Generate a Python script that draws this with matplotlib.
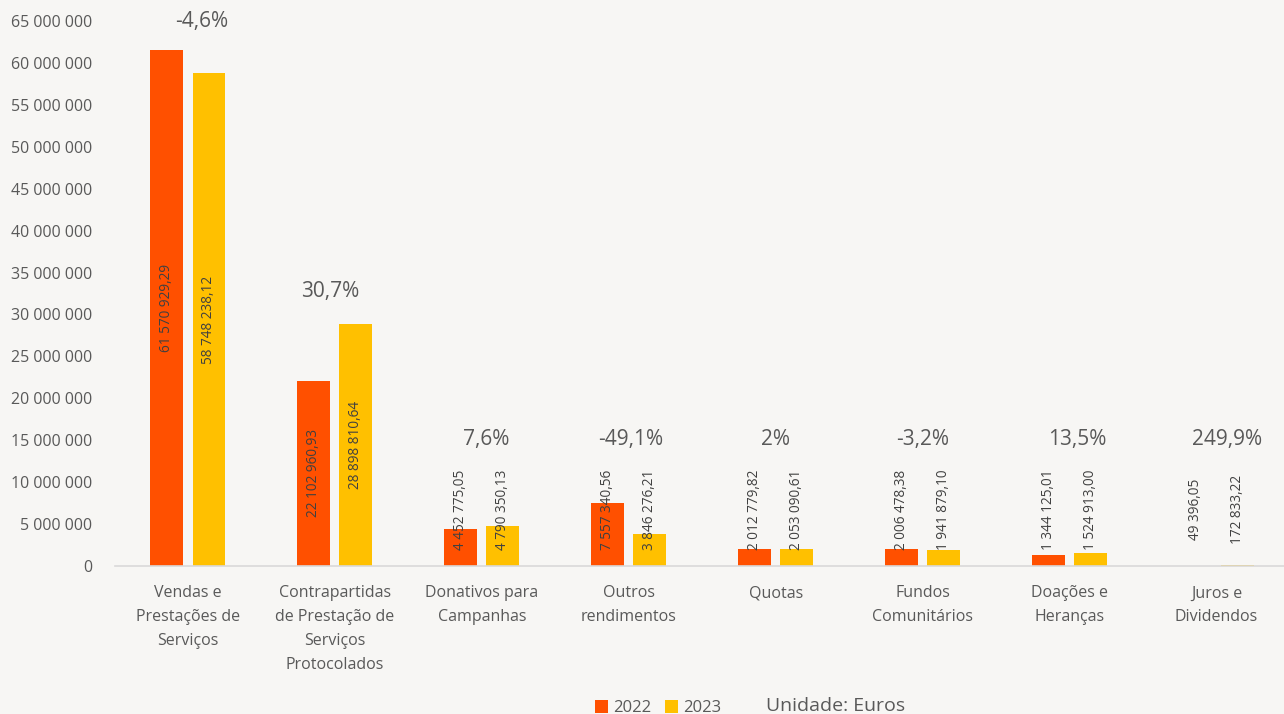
import numpy as np
import matplotlib.pyplot as plt

categories = [
    "Vendas e\nPrestações de\nServiços",
    "Contrapartidas\nde Prestação de\nServiços\nProtocolados",
    "Donativos para\nCampanhas",
    "Outros\nrendimentos",
    "Quotas",
    "Fundos\nComunitários",
    "Doações e\nHeranças",
    "Juros e\nDividendos",
]
values_2022 = [61570929.29, 22102960.93, 4452775.05, 7557340.56,
               2012779.82, 2006478.38, 1344125.01, 49396.05]
values_2023 = [58748238.12, 28898810.64, 4790350.13, 3846276.21,
               2053090.61, 1941879.10, 1524913.00, 172833.22]
changes = ["-4,6%", "30,7%", "7,6%", "-49,1%", "2%", "-3,2%", "13,5%", "249,9%"]

RED = "#ff5000"
YELLOW = "#ffc000"
BG = "#f7f6f4"
GREY = "#595959"
FONT = ["Open Sans", "DejaVu Sans"]

plt.rcParams["font.family"] = FONT


def fmt_pt(v):
    s = f"{v:,.2f}"
    return s.replace(",", " ").replace(".", ",")


def fmt_tick(v, _pos=None):
    return f"{int(v):,}".replace(",", " ")


fig = plt.figure(figsize=(12.84, 7.14), dpi=100, facecolor=BG)
W, H = 1284, 714
x_left, x_right = 114.5, 1290
y_zero, y_top = 566, 21
ax = fig.add_axes([x_left / W, (H - y_zero) / H,
                   (x_right - x_left) / W, (y_zero - y_top) / H])
ax.set_facecolor(BG)

x = np.arange(len(categories))
bw = 0.224
off = 0.143
ax.bar(x - off, values_2022, bw, color=RED, label="2022")
ax.bar(x + off, values_2023, bw, color=YELLOW, label="2023")

ax.set_xlim(-0.5, len(categories) - 0.5)
ax.set_ylim(0, 65_000_000)
ax.set_yticks(np.arange(0, 65_000_001, 5_000_000))
ax.yaxis.set_major_formatter(plt.FuncFormatter(fmt_tick))
ax.tick_params(axis="y", length=0, pad=16, labelsize=11.5, labelcolor=GREY)
ax.set_xticks(x)
ax.set_xticklabels(categories, linespacing=1.65)
ax.tick_params(axis="x", length=0, pad=14, labelsize=11.5, labelcolor=GREY)

for side in ["top", "right", "left"]:
    ax.spines[side].set_visible(False)
ax.spines["bottom"].set_color("#d9d9d9")
ax.spines["bottom"].set_linewidth(1.2)

# value labels inside bars (rotated)
min_center = 6_700_000
for xs, vals in [(x - off, values_2022), (x + off, values_2023)]:
    for xi, v in zip(xs, vals):
        yc = max(v / 2, min_center)
        ax.text(xi, yc, fmt_pt(v), rotation=90, ha="center", va="center",
                fontsize=9.8, color="#404040")

# percentage change labels
pct_y = [64_900_000, 32_700_000] + [15_100_000] * 6
pct_dx = [0.09, -0.03, 0.03, 0.01, 0.0, 0.0, 0.05, 0.07]
for xi, lbl, yy, dx in zip(x, changes, pct_y, pct_dx):
    ax.text(xi + dx, yy, lbl, ha="center", va="center", fontsize=15, color=GREY)

leg = fig.legend(loc="center", bbox_to_anchor=(658 / W, (H - 708) / H),
                 ncol=2, frameon=False, fontsize=12, handlelength=0.8,
                 handleheight=0.8, handletextpad=0.3, columnspacing=0.8)
for t in leg.get_texts():
    t.set_color(GREY)

fig.text(766 / W, (H - 706) / H, "Unidade: Euros", ha="left", va="center",
         fontsize=14, color=GREY)

fig.savefig("out.png", dpi=100, facecolor=BG)
